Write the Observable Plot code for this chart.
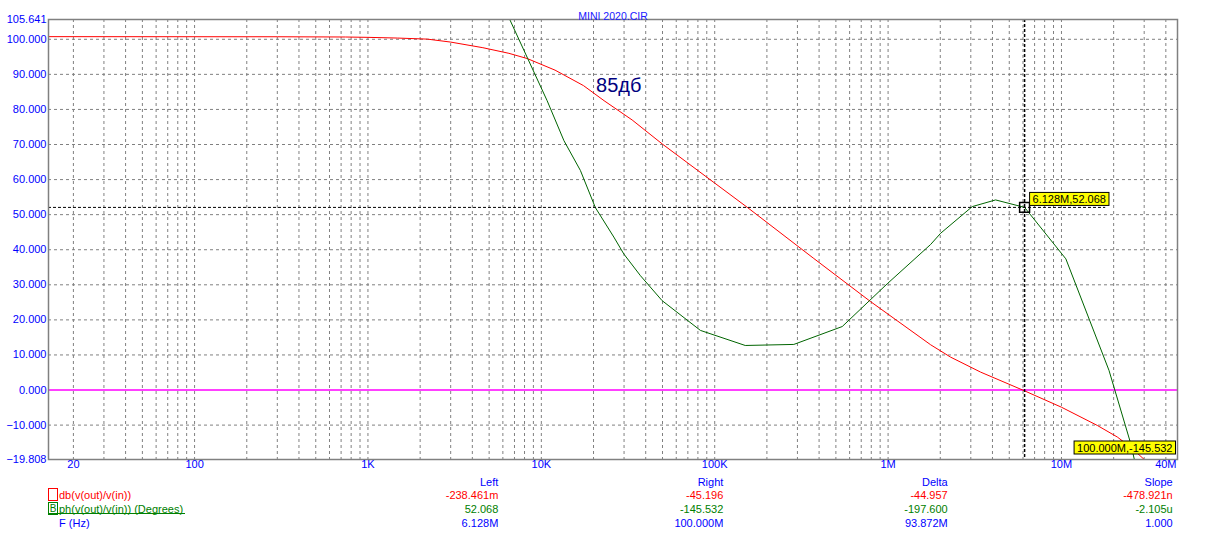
<!DOCTYPE html>
<html><head><meta charset="utf-8">
<script src="https://cdn.jsdelivr.net/npm/d3@7"></script>
<script src="https://cdn.jsdelivr.net/npm/@observablehq/plot@0.6"></script>
<style>
body{margin:0;background:#fff;font-family:Arial,"Liberation Sans",sans-serif;}
#wrap{position:relative;width:1205px;height:541px;overflow:hidden;background:#fff;}
#wrap svg{display:block;}
.lg{position:absolute;font-size:11px;line-height:14px;white-space:nowrap;}
</style></head><body><div id="wrap"></div>
<script>
// ---- data ----
const chartTitle = "MINI 2020.CIR";
const annotation = "85дб";
const xDomain = [14.37, 46.7e6];
const yDomain = [-19.808, 105.641];
const yTicks = [105.641, 100, 90, 80, 70, 60, 50, 40, 30, 20, 10, 0, -10, -19.808];
const yGrid = [100, 90, 80, 70, 60, 50, 40, 30, 20, 10, -10];
const xTicks = [20, 100, 1e3, 1e4, 1e5, 1e6, 1e7, 4e7];
const xTickLabels = ["20", "100", "1K", "10K", "100K", "1M", "10M", "40M"];

const magFreq = [14.37, 300, 741, 1000, 1480, 2200, 3000, 4600, 6500, 8300, 12000, 17500, 23000, 33400, 50000, 100000, 154000, 373000, 793000, 1760000, 2290000, 3420000, 6128000, 10000000, 16100000, 21000000, 25100000, 30000000, 40000000, 100000000];
const magDb   = [100.75, 100.72, 100.65, 100.55, 100.35, 100.05, 99.2, 97.6, 96.0, 94.5, 91.2, 86.8, 82.5, 77.0, 70.1, 59.0, 52.1, 37.5, 25.2, 12.9, 9.4, 5.1, -0.238, -4.9, -10.1, -13.4, -16.3, -19.8, -26, -45.196];

const phFreq = [5000, 6580, 10800, 13500, 16800, 20500, 26200, 29900, 37300, 49700, 82700, 150000, 286000, 544000, 989000, 1760000, 2010000, 3060000, 4170000, 6128000, 10600000, 18800000, 25100000, 100000000];
const phDeg  = [118, 105.6, 82.5, 71.1, 62.6, 52.0, 43.6, 38.8, 32.6, 25.5, 17.0, 12.7, 13.0, 18.1, 30.3, 41.5, 44.7, 52.3, 54.2, 52.068, 37.4, 5.6, -15.3, -145.532];

const cursorFreq = 6.128e6;
const cursorPhase = 52.068;
const cursorLineEnd = 18e6;
const cursorLabel = "6.128M,52.068";
const rightCursorLabel = "100.000M,-145.532";
const annotFreq = 20.7e3, annotValue = 86.9;

const traceNames = ["db(v(out)/v(in))", "ph(v(out)/v(in)) (Degrees)", "F (Hz)"];
const columnHeads = ["Left", "Right", "Delta", "Slope"];
const leftValues  = ["-238.461m", "52.068", "6.128M"];
const rightValues = ["-45.196", "-145.532", "100.000M"];
const deltaValues = ["-44.957", "-197.600", "93.872M"];
const slopeValues = ["-478.921n", "-2.105u", "1.000"];

// ---- build ----
const magData = magFreq.map((f, i) => ({f, v: magDb[i]}));
const phData = phFreq.map((f, i) => ({f, v: phDeg[i]}));
const xGrid = [];
for (let e = 1; e <= 7; e++) for (let m = 1; m <= 9; m++) {
  const v = m * 10 ** e;
  if (v >= xDomain[0] && v <= xDomain[1]) xGrid.push(v);
}
const BLUE = "#0000ff", RED = "#ff0000", GREEN = "#008000";

const chart = Plot.plot({
  width: 1205, height: 480,
  marginLeft: 48, marginRight: 28, marginTop: 19, marginBottom: 21,
  x: {type: "log", domain: xDomain, axis: null},
  y: {domain: yDomain},
  style: {fontFamily: "Arial, 'Liberation Sans', sans-serif", fontSize: "11px", color: BLUE, background: "#fff", overflow: "visible"},
  marks: [
    Plot.ruleX(xGrid, {stroke: "#808080", strokeDasharray: "3,3"}),
    Plot.ruleY(yGrid, {stroke: "#808080", strokeDasharray: "3,3"}),
    Plot.ruleY([0], {stroke: "#ff00ff", strokeWidth: 1.5}),
    Plot.line(magData, {x: "f", y: "v", stroke: RED, strokeWidth: 1, clip: true}),
    Plot.line(phData, {x: "f", y: "v", stroke: "#006400", strokeWidth: 1, clip: true}),
    Plot.ruleX([cursorFreq], {stroke: "#000", strokeDasharray: "3,2", strokeWidth: 1.5}),
    Plot.ruleY([{y: cursorPhase, x1: xDomain[0], x2: cursorLineEnd}], {y: "y", x1: "x1", x2: "x2", stroke: "#000", strokeDasharray: "3,2"}),
    Plot.dot([{f: cursorFreq, v: cursorPhase}], {x: "f", y: "v", symbol: "square", r: 5.6, stroke: "#000", fill: "none"}),
    Plot.frame({stroke: "#808080", strokeWidth: 1.5}),
    Plot.axisY({ticks: yTicks, tickFormat: d3.format(".3f"), tickSize: 0, tickPadding: 2, label: null, fill: BLUE}),
    Plot.text(xTicks, {x: d => d, frameAnchor: "bottom", dy: 8, text: (d, i) => xTickLabels[i], fill: BLUE}),
    Plot.text([chartTitle], {frameAnchor: "top", dy: -7, fill: "#2020ff", fontSize: 10.5}),
    Plot.text([{f: annotFreq, v: annotValue, t: annotation}], {x: "f", y: "v", text: "t", textAnchor: "start", fontSize: 20, fill: "#000080"}),
    Plot.text([{f: cursorFreq, v: cursorPhase, t: cursorLabel}], {x: "f", y: "v", text: "t", textAnchor: "start", dx: 8, dy: -8, fill: "#000"}),
    Plot.text([rightCursorLabel], {frameAnchor: "bottom-right", textAnchor: "end", dx: -5, dy: -8, fill: "#000"})
  ]
});
const wrap = document.getElementById("wrap");
wrap.appendChild(chart);

// yellow boxes behind cursor labels
chart.querySelectorAll("text").forEach(t => {
  const s = t.textContent;
  if (s !== cursorLabel && s !== rightCursorLabel) return;
  const b = t.getBBox();
  const r = document.createElementNS("http://www.w3.org/2000/svg", "rect");
  r.setAttribute("x", b.x - 3); r.setAttribute("y", b.y - 0.5);
  r.setAttribute("width", b.width + 6); r.setAttribute("height", b.height + 1);
  if (t.getAttribute("transform")) r.setAttribute("transform", t.getAttribute("transform"));
  r.setAttribute("fill", "#ffff00"); r.setAttribute("stroke", "#000"); r.setAttribute("stroke-width", 1);
  t.parentNode.insertBefore(r, t);
});

// ---- legend table below the chart ----
function addDiv(text, css) {
  const d = document.createElement("div");
  d.className = "lg"; d.textContent = text;
  Object.assign(d.style, css);
  wrap.appendChild(d); return d;
}
const colRight = [498.3, 723.3, 947.7, 1172.7];
const rowCenter = [481.7, 495, 509.3, 522.7];
const rowColors = [RED, GREEN, BLUE];
columnHeads.forEach((h, i) => addDiv(h, {right: (1205 - colRight[i]) + "px", top: (rowCenter[0] - 7) + "px", color: BLUE, textAlign: "right"}));
[leftValues, rightValues, deltaValues, slopeValues].forEach((col, ci) => {
  col.forEach((v, ri) => addDiv(v, {right: (1205 - colRight[ci]) + "px", top: (rowCenter[ri + 1] - 7) + "px", color: rowColors[ri], textAlign: "right"}));
});
traceNames.forEach((n, ri) => addDiv(n, {left: "59px", top: (rowCenter[ri + 1] - 7) + "px", color: rowColors[ri]}));
addDiv("", {left: "48px", top: "488px", width: "8px", height: "11px", border: "1px solid " + RED});
addDiv("B", {left: "48px", top: "502px", width: "8px", height: "11px", border: "1px solid " + GREEN, color: GREEN, lineHeight: "11px", textAlign: "center", fontSize: "10px"});
addDiv("", {left: "48px", top: "513px", width: "137px", height: "1px", background: GREEN});
</script></body></html>
